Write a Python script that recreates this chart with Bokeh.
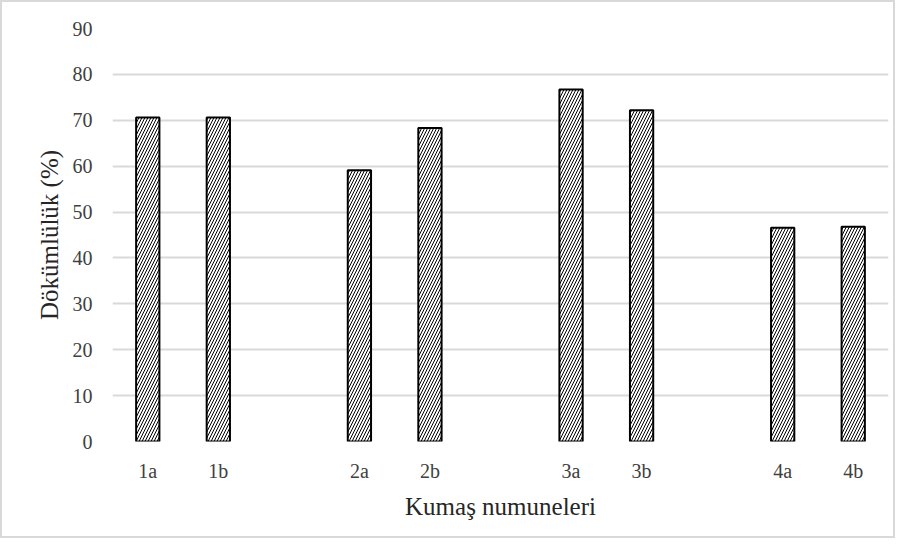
from bokeh.plotting import figure
from bokeh.embed import file_html
from bokeh.resources import INLINE
from bokeh.models import ColumnDataSource, FixedTicker, Range1d

groups = ["1", "2", "3", "4"]
samples = ["1a", "1b", "2a", "2b", "3a", "3b", "4a", "4b"]
drape = [70.6, 70.6, 59.1, 68.3, 76.7, 72.2, 46.6, 46.8]
y_ticks = [0, 10, 20, 30, 40, 50, 60, 70, 80, 90]

# position of each sample: two per group, one empty slot between groups
xs = []
for s in samples:
    g = groups.index(s[0])
    xs.append(g * 3 + (0 if s.endswith("a") else 1))

src = ColumnDataSource(dict(x=xs, top=drape, label=samples))

FONT = "Liberation Serif"
p = figure(width=895, height=538, output_backend="svg", toolbar_location=None,
           x_range=Range1d(-0.5, max(xs) + 0.5), y_range=Range1d(0, 90),
           min_border_left=110, min_border_right=9, min_border_top=26, min_border_bottom=99)
p.styles = {"border": "2px solid #d9d9d9", "box-sizing": "border-box"}
p.outline_line_color = None

p.vbar(x="x", top="top", width=0.33, source=src, fill_color="white",
       line_color="black", line_width=2,
       hatch_pattern="/", hatch_color="black", hatch_scale=6, hatch_weight=1)

p.yaxis.ticker = FixedTicker(ticks=y_ticks)
p.xaxis.ticker = FixedTicker(ticks=xs)
p.xaxis.major_label_overrides = {x: l for x, l in zip(xs, samples)}
p.xgrid.visible = False
p.ygrid.grid_line_color = "#d9d9d9"
p.ygrid.grid_line_width = 2
for ax in (p.xaxis[0], p.yaxis[0]):
    ax.axis_line_color = None
    ax.major_tick_line_color = None
    ax.minor_tick_line_color = None
    ax.major_label_text_font = FONT
    ax.major_label_text_font_size = "20px"
    ax.major_label_text_color = "#404040"
    ax.axis_label_text_font = FONT
    ax.axis_label_text_font_size = "25px"
    ax.axis_label_text_font_style = "normal"
    ax.axis_label_text_color = "#262626"
p.yaxis.major_label_standoff = 14
p.xaxis.major_label_standoff = 12
p.yaxis.axis_label = "Dökümlülük (%)"
p.xaxis.axis_label = "Kumaş numuneleri"
p.yaxis.axis_label_standoff = 7
p.xaxis.axis_label_standoff = 8

open("out.html", "w").write(file_html(p, INLINE))
